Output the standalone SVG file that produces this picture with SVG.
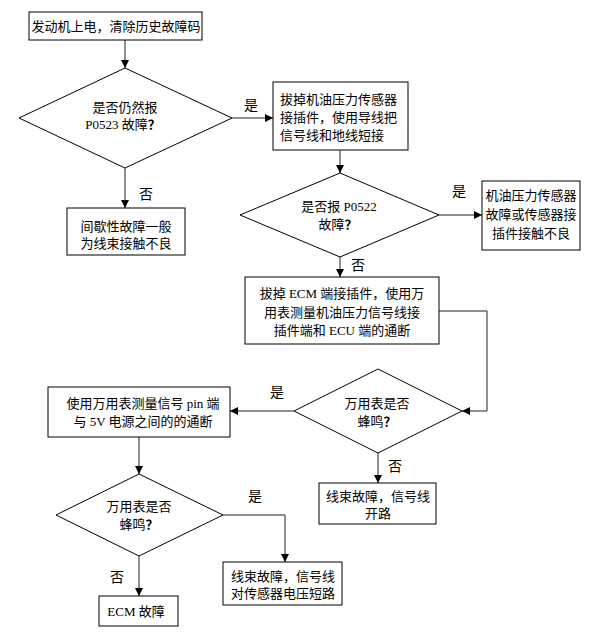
<svg xmlns="http://www.w3.org/2000/svg" width="594" height="634" viewBox="0 0 594 634">
<style>
.n{fill:#fff;stroke:#000;stroke-width:1}
.t{font-family:"Liberation Serif","Noto Sans CJK SC",serif;font-size:13px;fill:#000;text-anchor:middle}
.q{font-family:"Noto Sans CJK SC",sans-serif;font-weight:bold}
.l{font-family:"Noto Sans CJK SC",sans-serif;font-size:14px;fill:#000;text-anchor:middle}
.c{fill:none;stroke:#222;stroke-width:1}
</style>
<defs>
<marker id="a" viewBox="0 0 10 10" refX="10" refY="5" markerWidth="8" markerHeight="8" markerUnits="userSpaceOnUse" orient="auto">
<path d="M0,0L10,5L0,10z" fill="#000"/>
</marker>
</defs>
<rect width="594" height="634" fill="#fff"/>
<g id="connectors">
<line class="c" x1="125" y1="40" x2="125" y2="68" marker-end="url(#a)"/>
<line class="c" x1="232" y1="118" x2="273" y2="118" marker-end="url(#a)"/>
<line class="c" x1="125" y1="168" x2="125" y2="208" marker-end="url(#a)"/>
<line class="c" x1="340" y1="150" x2="340" y2="173" marker-end="url(#a)"/>
<line class="c" x1="439" y1="215" x2="482" y2="215" marker-end="url(#a)"/>
<line class="c" x1="340" y1="257" x2="340" y2="277" marker-end="url(#a)"/>
<polyline class="c" points="439,311 487,311 487,411 462,411" marker-end="url(#a)"/>
<line class="c" x1="294" y1="411" x2="230" y2="411" marker-end="url(#a)"/>
<line class="c" x1="378" y1="453" x2="378" y2="483" marker-end="url(#a)"/>
<line class="c" x1="139" y1="437" x2="139" y2="474" marker-end="url(#a)"/>
<line class="c" x1="139" y1="556" x2="139" y2="596" marker-end="url(#a)"/>
<polyline class="c" points="223,515 285,515 285,562" marker-end="url(#a)"/>
<text class="l" x="251" y="110">是</text>
<text class="l" x="146" y="199">否</text>
<text class="l" x="459" y="196">是</text>
<text class="l" x="358" y="270">否</text>
<text class="l" x="277" y="397">是</text>
<text class="l" x="395" y="471">否</text>
<text class="l" x="255" y="501">是</text>
<text class="l" x="117" y="582">否</text>
</g>
<g id="start">
<rect class="n" x="29" y="12" width="173" height="28"/>
<text class="t" x="116" y="31">发动机上电，清除历史故障码</text>
</g>
<g id="d1">
<polygon class="n" points="125,68 232,118 125,168 19,118"/>
<text class="t" x="125" y="112">是否仍然报</text>
<text class="t" x="123" y="129">P0523 故障<tspan class="q">？</tspan></text>
</g>
<g id="intermittent">
<rect class="n" x="67" y="208" width="118" height="47"/>
<text class="t" x="126" y="231">间歇性故障一般</text>
<text class="t" x="126" y="248">为线束接触不良</text>
</g>
<g id="unplug">
<rect class="n" x="273" y="82" width="135" height="68"/>
<text class="t" x="280" y="104" style="text-anchor:start">拔掉机油压力传感器</text>
<text class="t" x="280" y="122" style="text-anchor:start">接插件，使用导线把</text>
<text class="t" x="280" y="140" style="text-anchor:start">信号线和地线短接</text>
</g>
<g id="d2">
<polygon class="n" points="340,173 439,215 340,257 240,215"/>
<text class="t" x="339" y="211">是否报 P0522</text>
<text class="t" x="338" y="229">故障<tspan class="q">？</tspan></text>
</g>
<g id="sensor">
<rect class="n" x="482" y="181" width="98" height="69"/>
<text class="t" x="531" y="200">机油压力传感器</text>
<text class="t" x="531" y="219">故障或传感器接</text>
<text class="t" x="531" y="238">插件接触不良</text>
</g>
<g id="ecm-test">
<rect class="n" x="245" y="277" width="194" height="67"/>
<text class="t" x="342" y="298">拔掉 ECM 端接插件，使用万</text>
<text class="t" x="342" y="317">用表测量机油压力信号线接</text>
<text class="t" x="342" y="335">插件端和 ECU 端的通断</text>
</g>
<g id="d3">
<polygon class="n" points="378,369 462,411 378,453 294,411"/>
<text class="t" x="377" y="408">万用表是否</text>
<text class="t" x="377" y="426">蜂鸣<tspan class="q">？</tspan></text>
</g>
<g id="open">
<rect class="n" x="319" y="483" width="117" height="41"/>
<text class="t" x="378" y="501">线束故障，信号线</text>
<text class="t" x="378" y="518">开路</text>
</g>
<g id="pin-test">
<rect class="n" x="48" y="387" width="182" height="50"/>
<text class="t" x="143" y="408">使用万用表测量信号 pin 端</text>
<text class="t" x="143" y="426">与 5V 电源之间的的通断</text>
</g>
<g id="d4">
<polygon class="n" points="139,474 223,515 139,556 56,515"/>
<text class="t" x="139" y="511">万用表是否</text>
<text class="t" x="139" y="529">蜂鸣<tspan class="q">？</tspan></text>
</g>
<g id="ecm-fault">
<rect class="n" x="99" y="596" width="79" height="30"/>
<text class="t" x="136" y="616">ECM 故障</text>
</g>
<g id="short">
<rect class="n" x="223" y="562" width="119" height="43"/>
<text class="t" x="283" y="581">线束故障，信号线</text>
<text class="t" x="283" y="598">对传感器电压短路</text>
</g>
</svg>
